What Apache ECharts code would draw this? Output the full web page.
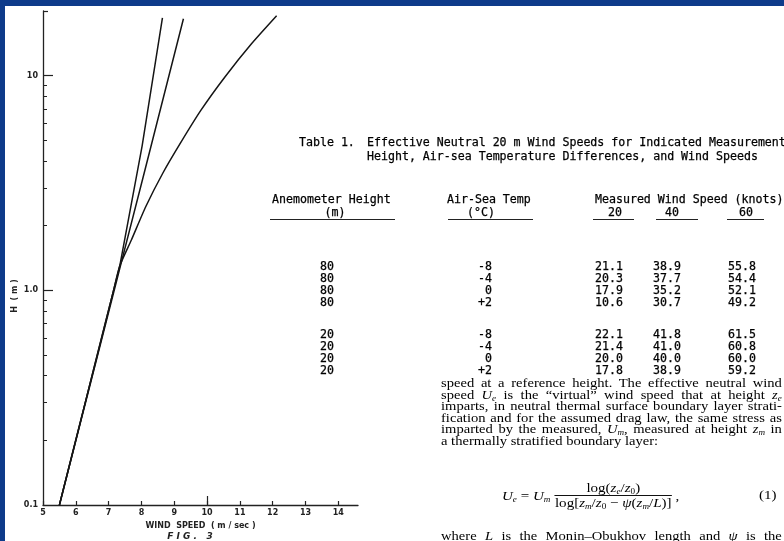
<!DOCTYPE html>
<html>
<head>
<meta charset="utf-8">
<script src="https://cdn.jsdelivr.net/npm/echarts@6/dist/echarts.min.js"></script>
<style>
  html, body { margin: 0; padding: 0; }
  body { width: 784px; height: 541px; overflow: hidden; background: #0e3b8a; position: relative; }
  #page { position: absolute; left: 5px; top: 6px; right: 0; bottom: 0; background: #fff; }
  #fig { position: absolute; left: 0; top: 0; width: 784px; height: 541px; }
  .tw { position: absolute; font-family: "DejaVu Sans Mono", monospace; font-size: 11.6px; line-height: 14px; height: 14px; white-space: pre; color: #000; -webkit-text-stroke: 0.25px #000; }
  .rule { position: absolute; height: 1px; background: #222; }
  .para { position: absolute; left: 441px; width: 299px; font-family: "Liberation Serif", serif; font-size: 12.8px; line-height: 12px; height: 12px; color: #000; white-space: nowrap; transform: scaleX(1.14); transform-origin: 0 0; }
  .just { text-align: justify; text-align-last: justify; white-space: normal; }
  .para sub, .eq sub { font-size: 8px; vertical-align: -2px; line-height: 0; }
  .eq { position: absolute; font-family: "Liberation Serif", serif; font-size: 13.2px; color: #000; white-space: nowrap; display: flex; align-items: center; transform: scaleX(1.14); transform-origin: 0 0; }
  .frac { display: inline-block; text-align: center; margin-left: 4px; }
  .frac .num { border-bottom: 1px solid #111; padding: 0 2px 1px 2px; line-height: 13px; }
  .frac .den { line-height: 14px; }
</style>
</head>
<body>
<div id="page"></div>
<div id="fig"></div>
<div id="txt"></div>
<script>
// figure 3 : wind profiles, speed (m/s) against height (m)
var speedTicks = [5, 6, 7, 8, 9, 10, 11, 12, 13, 14];
var heightLabels = [0.1, 1, 10];
var heightMajorTicks = [1, 10];
var heightMinorTicks = [0.2, 0.3, 0.4, 0.5, 0.6, 0.7, 0.8, 0.9, 2, 3, 4, 5, 6, 7, 8, 9];
var profileU = [[5.5, 0.1], [7.15, 1.0], [7.34, 1.3], [8.02, 4.7], [8.64, 18.6]];
var profileN = [[5.5, 0.1], [7.17, 1.0], [7.36, 1.3], [8.08, 3.5], [9.28, 18.4]];
var profileS = [[5.5, 0.1], [7.15, 1.0], [7.34, 1.3], [7.69, 1.71], [8.13, 2.45], [8.65, 3.51], [9.21, 4.91], [9.82, 6.92], [10.55, 9.88], [11.36, 14.1], [12.12, 19.0]];

// table 1
var tableTitle = ['Effective Neutral 20 m Wind Speeds for Indicated Measurement',
                  'Height, Air-sea Temperature Differences, and Wind Speeds'];
var anemometerHeights = ['80', '80', '80', '80', '20', '20', '20', '20'];
var airSeaTemps = ['-8', '-4', '0', '+2', '-8', '-4', '0', '+2'];
var measuredSpeeds = ['20', '40', '60'];
var wind20 = ['21.1', '20.3', '17.9', '10.6', '22.1', '21.4', '20.0', '17.8'];
var wind40 = ['38.9', '37.7', '35.2', '30.7', '41.8', '41.0', '40.0', '38.9'];
var wind60 = ['55.8', '54.4', '52.1', '49.2', '61.5', '60.8', '60.0', '59.2'];

var paraLines = [
    'speed at a reference height. The effective neutral wind',
    'speed <i>U<sub>e</sub></i> is the \u201cvirtual\u201d wind speed that at height <i>z<sub>e</sub></i>',
    'imparts, in neutral thermal surface boundary layer strati-',
    'fication and for the assumed drag law, the same stress as',
    'imparted by the measured, <i>U<sub>m</sub></i>, measured at height <i>z<sub>m</sub></i> in',
    'a thermally stratified boundary layer:'
];

var axisColor = '#222';
var labelFont = { fontFamily: 'DejaVu Sans', fontWeight: 'bold', fontSize: 8, color: '#222' };

function profileSeries(name, data, pos, off) {
    var pts = data.slice();
    pts[pts.length - 1] = {
        value: data[data.length - 1],
        label: { show: true, formatter: name, position: pos, distance: 6, offset: off,
                 fontFamily: 'DejaVu Sans', fontWeight: 'bold', fontSize: 8, color: '#222' }
    };
    return {
        name: name,
        type: 'line',
        data: pts,
        showSymbol: false,
        symbol: 'none',
        smooth: name === 'S' ? 0.2 : false,
        lineStyle: { color: '#151515', width: 1.5 },
        silent: true
    };
}

var fig = echarts.init(document.getElementById('fig'), null, { renderer: 'canvas' });
fig.setOption({
    animation: false,
    grid: { left: 43, right: 426, top: 11, bottom: 36 },
    xAxis: [{
        type: 'value',
        min: 5,
        max: 14.6,
        position: 'bottom',
        splitLine: { show: false },
        axisLine: { show: true, onZero: false, lineStyle: { color: axisColor, width: 1.3 } },
        axisTick: { show: true, inside: true, length: 4, customValues: speedTicks, lineStyle: { color: axisColor, width: 1.2 } },
        axisLabel: Object.assign({ customValues: speedTicks, margin: 4 }, labelFont),
        name: 'WIND  SPEED  ( m / sec )',
        nameLocation: 'middle',
        nameGap: 13,
        nameTextStyle: labelFont
    }, {
        type: 'value',
        min: 5,
        max: 14.6,
        position: 'bottom',
        splitLine: { show: false },
        axisLine: { show: false, onZero: false },
        axisTick: { show: true, inside: true, length: 9, customValues: [10], lineStyle: { color: axisColor, width: 1.2 } },
        axisLabel: { show: false }
    }],
    yAxis: [{
        type: 'log',
        logBase: 10,
        min: 0.1,
        max: 20,
        position: 'left',
        splitLine: { show: false },
        axisLine: { show: true, onZero: false, lineStyle: { color: axisColor, width: 1.3 } },
        axisTick: { show: true, inside: true, length: 10, customValues: heightMajorTicks, lineStyle: { color: axisColor, width: 1.2 } },
        axisLabel: Object.assign({
            customValues: heightLabels,
            margin: 5,
            formatter: function (v) { return v < 1 ? '0.1' : (v < 5 ? '1.0' : '10'); }
        }, labelFont)
    }, {
        type: 'log',
        logBase: 10,
        min: 0.1,
        max: 20,
        position: 'left',
        splitLine: { show: false },
        axisLine: { show: false, onZero: false },
        axisTick: { show: true, inside: true, length: 4, customValues: heightMinorTicks, lineStyle: { color: axisColor, width: 1 } },
        axisLabel: { show: false }
    }],
    graphic: [{
        type: 'text',
        x: 15, y: 296,
        rotation: Math.PI / 2,
        style: { text: 'H  ( m )', align: 'center', verticalAlign: 'middle',
                 font: 'bold 8px "DejaVu Sans"', fill: '#222' }
    }, {
        type: 'text',
        x: 190, y: 537,
        style: { text: 'F I G .   3', align: 'center', verticalAlign: 'middle',
                 font: 'italic bold 9px "DejaVu Sans"', fill: '#222' }
    }, {
        type: 'line',
        shape: { x1: 43, y1: 11.5, x2: 48, y2: 11.5 },
        style: { stroke: axisColor, lineWidth: 1.2 }
    }],
    series: [
        profileSeries('U', profileU, 'left', [0, 1]),
        profileSeries('N', profileN, 'right', [0, 0]),
        profileSeries('S', profileS, 'right', [0, 4])
    ]
});

// table and text, laid out like the typed page
var txt = document.getElementById('txt');
function put(html, x, cy, cls, align) {
    var d = document.createElement('div');
    d.className = cls;
    d.innerHTML = html;
    d.style.left = x + 'px';
    d.style.top = (cy - 7) + 'px';
    if (align === 'right') d.style.transform = 'translateX(-100%)';
    if (align === 'center') d.style.transform = 'translateX(-50%)';
    txt.appendChild(d);
    return d;
}
function rule(x1, x2, y) {
    var d = document.createElement('div');
    d.className = 'rule';
    d.style.left = x1 + 'px';
    d.style.width = (x2 - x1) + 'px';
    d.style.top = y + 'px';
    txt.appendChild(d);
}

put('Table 1.', 299, 142, 'tw');
put(tableTitle[0], 367, 142, 'tw');
put(tableTitle[1], 367, 156, 'tw');

put('Anemometer Height', 272, 199, 'tw');
put('(m)', 335, 212, 'tw', 'center');
put('Air-Sea Temp', 447, 199, 'tw');
put('(\u00b0C)', 481, 212, 'tw', 'center');
put('Measured Wind Speed (knots)', 595, 199, 'tw');
put(measuredSpeeds[0], 615, 212, 'tw', 'center');
put(measuredSpeeds[1], 672, 212, 'tw', 'center');
put(measuredSpeeds[2], 746, 212, 'tw', 'center');
rule(270, 395, 219);
rule(448, 533, 219);
rule(593, 634, 219);
rule(656, 698, 219);
rule(727, 764, 219);

for (var i = 0; i < anemometerHeights.length; i++) {
    var cy = i < 4 ? 266 + 12 * i : 334 + 12 * (i - 4);
    put(anemometerHeights[i], 320, cy, 'tw');
    put(airSeaTemps[i], 492, cy, 'tw', 'right');
    put(wind20[i], 595, cy, 'tw');
    put(wind40[i], 653, cy, 'tw');
    put(wind60[i], 728, cy, 'tw');
}

for (var j = 0; j < paraLines.length; j++) {
    var p = document.createElement('div');
    p.className = 'para' + (j < paraLines.length - 1 ? ' just' : '');
    p.innerHTML = paraLines[j];
    p.style.top = (383 + 11.6 * j - 6) + 'px';
    txt.appendChild(p);
}

var eq = document.createElement('div');
eq.className = 'eq';
eq.style.left = '502px';
eq.style.top = '481px';
eq.innerHTML = '<span><i>U<sub>e</sub></i> = <i>U<sub>m</sub></i></span>' +
    '<span class="frac"><div class="num">log(<i>z<sub>e</sub></i>/<i>z</i><sub>0</sub>)</div>' +
    '<div class="den">log[<i>z<sub>m</sub></i>/<i>z</i><sub>0</sub> \u2212 <i>\u03c8</i>(<i>z<sub>m</sub></i>/<i>L</i>)]</div></span>' +
    '<span>&nbsp;,</span>';
txt.appendChild(eq);
var eqn = document.createElement('div');
eqn.className = 'eq';
eqn.style.left = '759px';
eqn.style.top = '487px';
eqn.textContent = '(1)';
txt.appendChild(eqn);

var last = document.createElement('div');
last.className = 'para just';
last.innerHTML = 'where <i>L</i> is the Monin\u2013Obukhov length and <i>\u03c8</i> is the';
last.style.top = (536 - 6) + 'px';
txt.appendChild(last);
</script>
</body>
</html>
